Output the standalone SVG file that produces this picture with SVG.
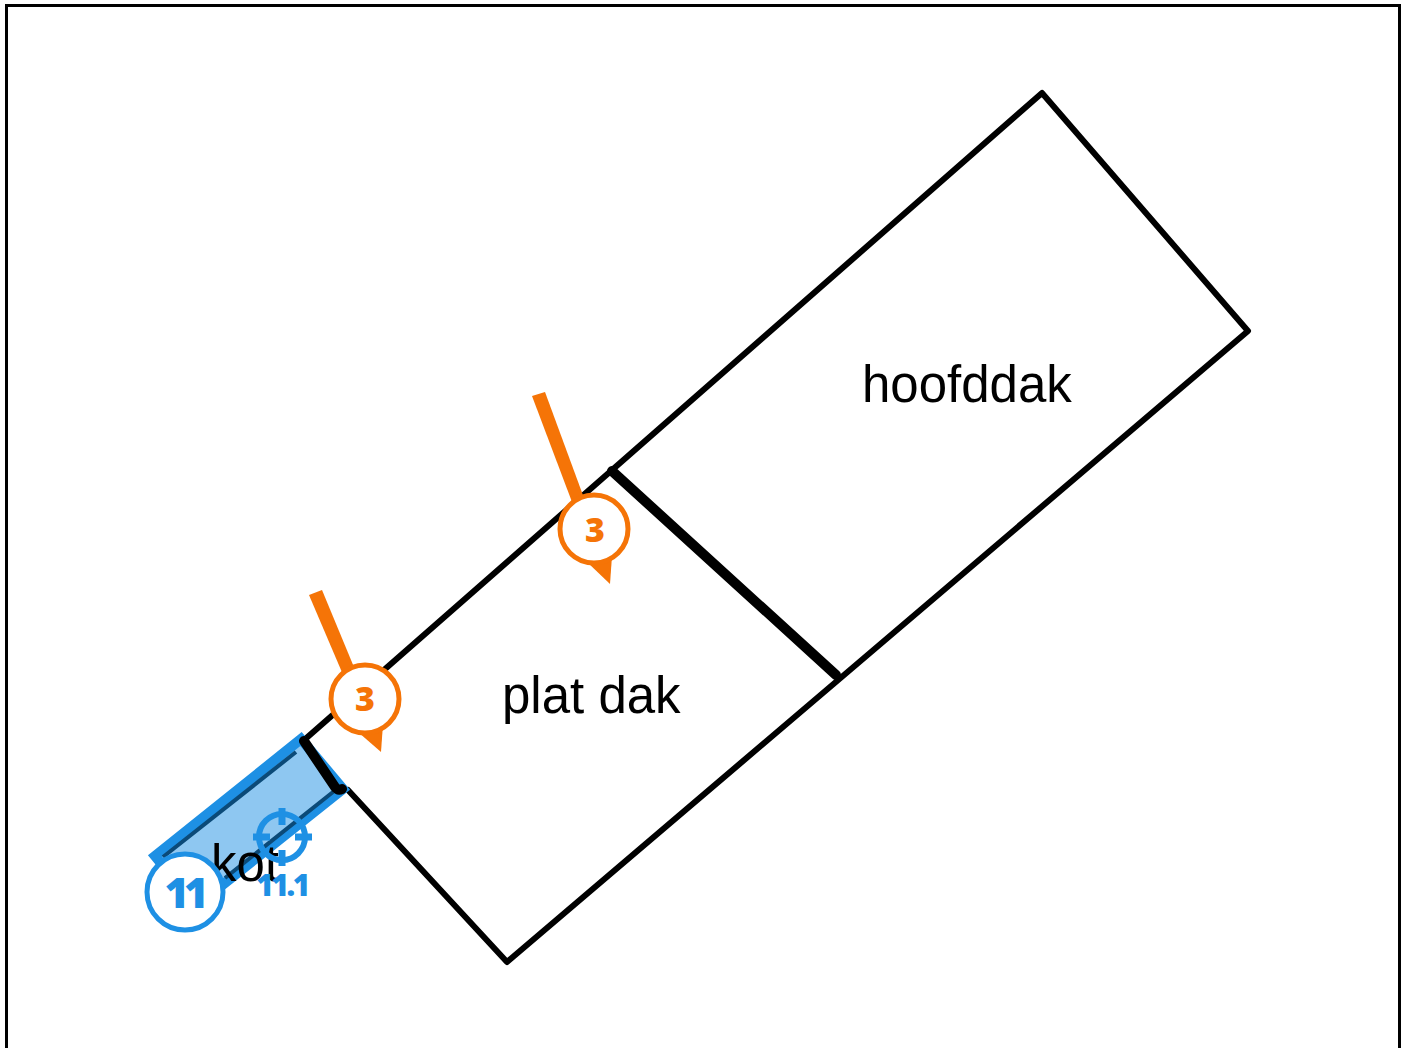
<svg xmlns="http://www.w3.org/2000/svg" width="1405" height="1048" viewBox="0 0 1405 1048">
<style>
.wall{fill:none;stroke:#000;stroke-width:6;stroke-linecap:round;stroke-linejoin:round}
.heavy{fill:none;stroke:#000;stroke-width:10;stroke-linecap:round;stroke-linejoin:round}
.lbl{font-family:"Liberation Sans",Arial,sans-serif;font-size:51px;fill:#000}
.num{font-family:"Open Sans","Noto Sans",sans-serif;font-weight:800;text-anchor:middle}
.or{fill:#fff;stroke:#F57407;stroke-width:5}
.ofill{fill:#F57407}
.bl{fill:#fff;stroke:#1E90E4;stroke-width:5}
</style>
<rect x="0" y="0" width="1405" height="1048" fill="#fff"/>
<rect id="frame" x="6.5" y="5.5" width="1393" height="1060" fill="none" stroke="#000" stroke-width="3"/>
<g id="roof-outline">
<path class="wall" d="M303 741L1042 93L1248 331L507 962L348 790"/>
</g>
<g id="kot-area">
<path d="M301 739L343 789L196 906L155 856Z" fill="#1E90E4" fill-opacity=".5" stroke="#1E90E4" stroke-width="10"/>
<path d="M296 752L163 857M333 792L225 878" fill="none" stroke="#0B4A78" stroke-width="4"/>
</g>
<g id="dividers">
<path class="heavy" d="M612 471L836 675"/>
<path class="heavy" d="M304 741L335 787Q338 791 342 789"/>
</g>
<text id="label-hoofddak" class="lbl" x="862" y="402">hoofddak</text>
<text id="label-plat-dak" class="lbl" x="502" y="713">plat dak</text>
<text id="label-kot" class="lbl" x="211" y="881">kot</text>
<g id="marker-3a">
<path class="ofill" d="M309 595L322 590L356 672L344 677Z"/>
<path class="ofill" d="M358 732L383 724L381 752Z"/>
<circle class="or" cx="365" cy="699" r="34"/>
<text class="num" x="365" y="711" font-size="34" fill="#F57407">3</text>
</g>
<g id="marker-3b">
<path class="ofill" d="M532 396L545 392L584 498L572 502Z"/>
<path class="ofill" d="M587 562L612 556L610 584Z"/>
<circle class="or" cx="594" cy="529" r="34"/>
<text class="num" x="595" y="542" font-size="34" fill="#F57407">3</text>
</g>
<g id="marker-11">
<circle class="bl" cx="185" cy="892" r="38"/>
<text class="num" x="184" y="908" font-size="42" fill="#1E90E4" letter-spacing="-5">11</text>
</g>
<g id="marker-11-1">
<circle cx="282" cy="837" r="23" fill="none" stroke="#1E90E4" stroke-width="6"/>
<path d="M253 837H270M295 837H312M282 808V825M282 850V866" fill="none" stroke="#1E90E4" stroke-width="7"/>
<text class="num" x="282" y="896" font-size="30" fill="#1E90E4" letter-spacing="-2.5">11.1</text>
</g>
</svg>
